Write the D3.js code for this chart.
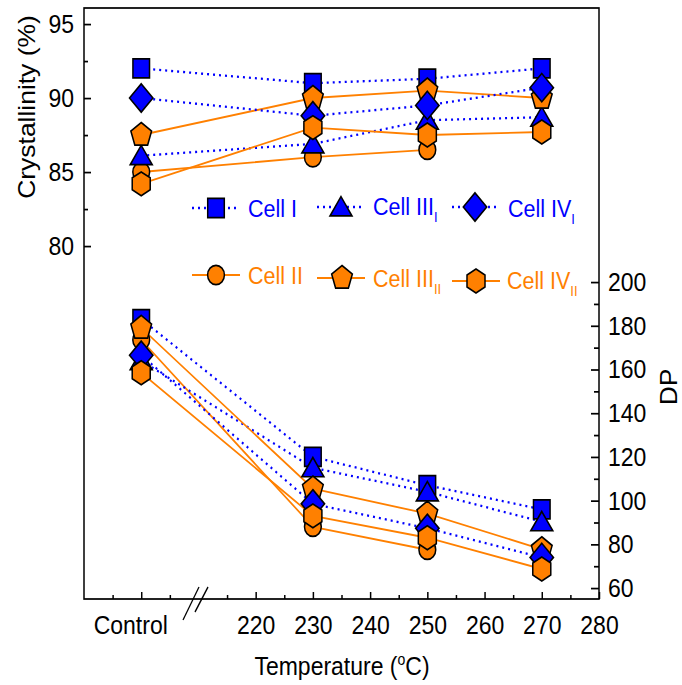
<!DOCTYPE html>
<html>
<head>
<meta charset="utf-8">
<script src="https://cdn.jsdelivr.net/npm/d3@7"></script>
<style>
  body { margin: 0; background: #fff; }
  text { font-family: "Liberation Sans", Arial, sans-serif; }
</style>
</head>
<body>
<script>
// the original figure is slightly stretched vertically
const K = 1.15;
const width = 682, height = 685;

const blue = "#0000ff", orange = "#ff8000";

// x categories; "Control" sits on the broken part of the axis
const temps = ["Control", 230, 250, 270];
const controlAt = 200;
const xMajor = [200, 220, 230, 240, 250, 260, 270, 280];
const xMinor = [195, 205, 215, 225, 235, 245, 255, 265, 275];

// crystallinity (%)
const crystI    = [92.0, 91.0, 91.3, 92.0];
const crystII   = [85.0, 86.0, 86.5, null];
const crystIII1 = [86.1, 86.9, 88.5, 88.7];
const crystIII2 = [87.5, 90.0, 90.5, 90.0];
const crystIV1  = [90.0, 88.8, 89.5, 90.7];
const crystIV2  = [84.2, 88.0, 87.5, 87.7];

// degree of polymerisation
const dpI    = [183.0, 120.0, 107.0, 96.0];
const dpII   = [173.5, 88.0, 77.5, null];
const dpIII1 = [164.0, 115.0, 104.0, 90.3];
const dpIII2 = [179.0, 105.5, 94.0, 77.7];
const dpIV1  = [166.5, 98.5, 87.3, 74.0];
const dpIV2  = [158.5, 93.0, 83.0, 68.7];

const crystTicks = [80, 85, 90, 95];
const crystMinor = [82.5, 87.5, 92.5];
const dpTicks = [60, 80, 100, 120, 140, 160, 180, 200];
const dpMinor = [70, 90, 110, 130, 150, 170, 190];

const series = [
  {name: "Cell I",   sub: "",   color: blue,   dotted: true,  shape: "square",   cryst: crystI,    dp: dpI},
  {name: "Cell II",  sub: "",   color: orange, dotted: false, shape: "circle",   cryst: crystII,   dp: dpII},
  {name: "Cell III", sub: "I",  color: blue,   dotted: true,  shape: "triangle", cryst: crystIII1, dp: dpIII1},
  {name: "Cell III", sub: "II", color: orange, dotted: false, shape: "pentagon", cryst: crystIII2, dp: dpIII2},
  {name: "Cell IV",  sub: "I",  color: blue,   dotted: true,  shape: "diamond",  cryst: crystIV1,  dp: dpIV1},
  {name: "Cell IV",  sub: "II", color: orange, dotted: false, shape: "hexagon",  cryst: crystIV2,  dp: dpIV2}
];

// legend layout (screen px): marker x, line start/end, text x, marker y, text baseline
const legendPos = [
  {mx: 216, x1: 192, x2: 237, tx: 248, my: 208, ty: 217},
  {mx: 216, x1: 192, x2: 240, tx: 248, my: 275, ty: 284},
  {mx: 341, x1: 317, x2: 363, tx: 373, my: 207, ty: 215},
  {mx: 342, x1: 317, x2: 365, tx: 373, my: 278, ty: 287},
  {mx: 475, x1: 452, x2: 497, tx: 508, my: 207, ty: 217},
  {mx: 476, x1: 452, x2: 500, tx: 507, my: 281, ty: 289}
];

const pLeft = 84, pRight = 599, pTop = 8, pBottom = 599;

const x = d3.scaleLinear().domain([190, 280]).range([pLeft, pRight]);
const yC = d3.scaleLinear().domain([80, 95]).range([246 / K, 24 / K]);
const yD = d3.scaleLinear().domain([60, 200]).range([588 / K, 282 / K]);
const xOf = t => t === "Control" ? controlAt : t;

function poly(n, r) {
  const pts = d3.range(n).map(i => {
    const a = -Math.PI / 2 + i * 2 * Math.PI / n;
    return [r * Math.cos(a), r * Math.sin(a)];
  });
  return "M" + pts.map(p => p.join(",")).join("L") + "Z";
}
const shapes = {
  square: "M-8.3,-8.3H8.3V8.3H-8.3Z",
  circle: "M-8.4,0A8.4,8.4 0 1,0 8.4,0A8.4,8.4 0 1,0 -8.4,0Z",
  triangle: "M0,-9L11,7.8L-11,7.8Z",
  diamond: "M0,-12.3L11.7,0L0,12.3L-11.7,0Z",
  pentagon: poly(5, 10.9),
  hexagon: poly(6, 10.4)
};

const svg = d3.select("body").append("svg")
    .attr("width", width)
    .attr("height", height);

const g = svg.append("g").attr("transform", `scale(1,${K})`);

// lines first
const panels = [{key: "cryst", y: yC}, {key: "dp", y: yD}];
panels.forEach(p => {
  const line = d3.line()
      .defined(d => d.v != null)
      .x(d => x(xOf(d.t)))
      .y(d => p.y(d.v));
  series.forEach(s => {
    g.append("path")
        .datum(temps.map((t, i) => ({t, v: s[p.key][i]})))
        .attr("fill", "none")
        .attr("stroke", s.color)
        .attr("stroke-width", s.dotted ? 2 : 1.6)
        .attr("stroke-dasharray", s.dotted ? "2,4" : null)
        .attr("d", line);
  });
});

// then markers
panels.forEach(p => {
  series.forEach(s => {
    g.append("g").selectAll("path")
        .data(temps.map((t, i) => ({t, v: s[p.key][i]})).filter(d => d.v != null))
        .enter().append("path")
        .attr("d", shapes[s.shape])
        .attr("transform", d => `translate(${x(xOf(d.t))},${p.y(d.v)})`)
        .attr("fill", s.color)
        .attr("stroke", "#000")
        .attr("stroke-width", 1.5);
  });
});

// frame
g.append("rect")
    .attr("x", pLeft).attr("y", pTop / K)
    .attr("width", pRight - pLeft).attr("height", (pBottom - pTop) / K)
    .attr("fill", "none").attr("stroke", "#000").attr("stroke-width", 1.5);

function styleAxis(a) {
  a.select(".domain").remove();
  a.selectAll("line").attr("stroke-width", 1.5);
  a.selectAll("text").attr("font-size", 23).attr("fill", "#000")
      .attr("font-family", '"Liberation Sans", Arial, sans-serif');
}

// bottom axis
g.append("g").attr("transform", `translate(0,${pBottom / K})`)
    .call(d3.axisBottom(x).tickValues(xMajor)
        .tickFormat(d => d === controlAt ? "Control" : d)
        .tickSizeInner(-7 / K).tickSizeOuter(0))
    .call(styleAxis)
    .call(a => a.selectAll("text").attr("y", 35 / K).attr("dy", 0)
        .attr("dx", d => d === controlAt ? -11 : 0));
g.append("g").attr("transform", `translate(0,${pBottom / K})`)
    .call(d3.axisBottom(x).tickValues(xMinor).tickFormat("")
        .tickSizeInner(-4 / K).tickSizeOuter(0))
    .call(styleAxis);

// left axis
g.append("g").attr("transform", `translate(${pLeft},0)`)
    .call(d3.axisLeft(yC).tickValues(crystTicks).tickSizeInner(-7).tickSizeOuter(0).tickPadding(10))
    .call(styleAxis);
g.append("g").attr("transform", `translate(${pLeft},0)`)
    .call(d3.axisLeft(yC).tickValues(crystMinor).tickFormat("").tickSizeInner(-4).tickSizeOuter(0))
    .call(styleAxis);

// right axis
g.append("g").attr("transform", `translate(${pRight},0)`)
    .call(d3.axisRight(yD).tickValues(dpTicks).tickSizeInner(-8).tickSizeOuter(0).tickPadding(9))
    .call(styleAxis);
g.append("g").attr("transform", `translate(${pRight},0)`)
    .call(d3.axisRight(yD).tickValues(dpMinor).tickFormat("").tickSizeInner(-5).tickSizeOuter(0))
    .call(styleAxis);

// axis break marks
[[199, 587, 183, 620], [208, 587, 195, 612]].forEach(b => {
  g.append("line")
      .attr("x1", b[0]).attr("y1", b[1] / K)
      .attr("x2", b[2]).attr("y2", b[3] / K)
      .attr("stroke", "#000").attr("stroke-width", 1.3);
});

// axis titles
g.append("text")
    .attr("transform", `translate(35,${107 / K}) rotate(-90)`)
    .attr("text-anchor", "middle").attr("font-size", 23)
    .text("Crystallinity (%)");

g.append("text")
    .attr("transform", `translate(677,${387 / K}) rotate(-90)`)
    .attr("text-anchor", "middle").attr("font-size", 23)
    .text("DP");

const xt = g.append("text")
    .attr("x", 342).attr("y", 675 / K)
    .attr("text-anchor", "middle").attr("font-size", 23);
xt.append("tspan").text("Temperature (");
xt.append("tspan").attr("font-size", 14).attr("dy", -9).text("o");
xt.append("tspan").attr("dy", 9).text("C)");

// legend
series.forEach((s, i) => {
  const p = legendPos[i];
  g.append("line")
      .attr("x1", p.x1).attr("x2", p.x2)
      .attr("y1", p.my / K).attr("y2", p.my / K)
      .attr("stroke", s.color)
      .attr("stroke-width", s.dotted ? 2 : 1.6)
      .attr("stroke-dasharray", s.dotted ? "2,4" : null);
  g.append("path")
      .attr("d", shapes[s.shape])
      .attr("transform", `translate(${p.mx},${p.my / K})`)
      .attr("fill", s.color).attr("stroke", "#000").attr("stroke-width", 1.5);
  const t = g.append("text")
      .attr("x", p.tx).attr("y", p.ty / K)
      .attr("font-size", 21.5).attr("fill", s.color);
  t.append("tspan").text(s.name);
  if (s.sub) t.append("tspan").attr("font-size", 13).attr("dy", 6).text(s.sub);
});
</script>
</body>
</html>
